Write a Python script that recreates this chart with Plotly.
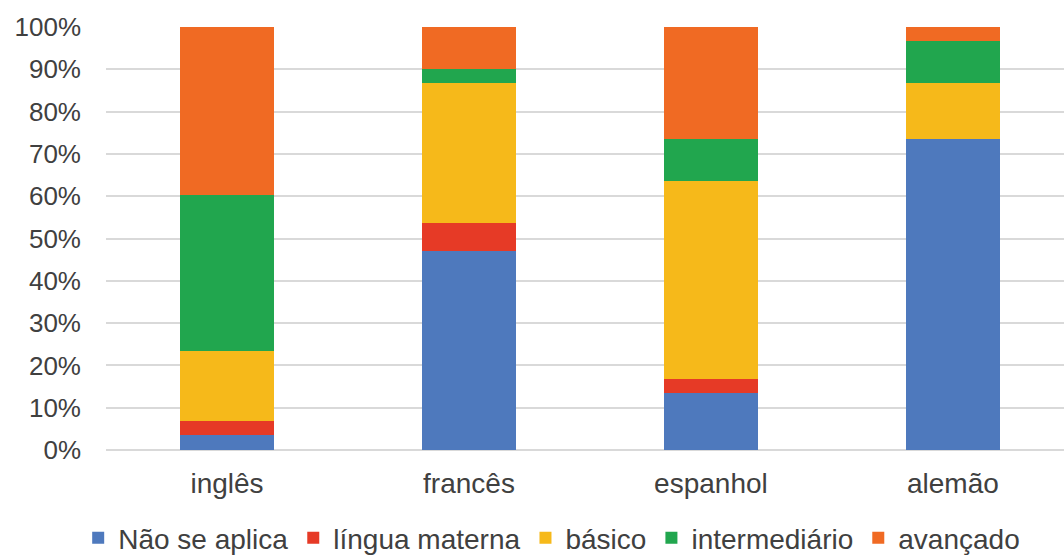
import plotly.graph_objects as go

categories = ["inglês", "francês", "espanhol", "alemão"]
series_names = ["Não se aplica", "língua materna", "básico", "intermediário", "avançado"]
nao_se_aplica = [3.5, 47.0, 13.4, 73.5]
lingua_materna = [3.4, 6.7, 3.4, 0.0]
basico = [16.6, 33.1, 46.8, 13.3]
intermediario = [36.7, 3.2, 9.9, 9.8]
avancado = [39.8, 10.0, 26.5, 3.4]
colors = ["#4e79bd", "#e63a26", "#f6b91a", "#21a64e", "#f06a23"]

fig = go.Figure()
for name, vals, col in zip(series_names,
                           [nao_se_aplica, lingua_materna, basico, intermediario, avancado],
                           colors):
    fig.add_trace(go.Bar(x=categories, y=[v / 100 for v in vals], name=name,
                         marker=dict(color=col, line=dict(width=0))))

fig.update_layout(
    barmode="stack",
    width=1064, height=556,
    margin=dict(l=106, r=0, t=27, b=106, autoexpand=False),
    paper_bgcolor="white", plot_bgcolor="white",
    bargap=0.61,
    font=dict(family="Liberation Sans, Arial, sans-serif", color="#404040", size=26),
    showlegend=True,
    legend=dict(orientation="h", xref="container", yref="paper",
                x=0.5185, xanchor="center", y=-0.149, yanchor="top",
                font=dict(size=28, color="#404040"), traceorder="normal",
                itemwidth=30, itemsizing="constant"),
    xaxis=dict(range=[-0.5, 3.459], showgrid=False, showline=False, ticks="",
               tickfont=dict(size=28), ticklabelstandoff=14),
    yaxis=dict(range=[0, 1], tickvals=[i / 10 for i in range(11)], tickformat=".0%",
               showgrid=True, gridcolor="#d9d9d9", gridwidth=1.5,
               zeroline=True, zerolinecolor="#d9d9d9", zerolinewidth=1.5,
               showline=False, ticks="", ticklabelstandoff=24,
               tickfont=dict(size=26)),
)

fig.write_html("out.html")
